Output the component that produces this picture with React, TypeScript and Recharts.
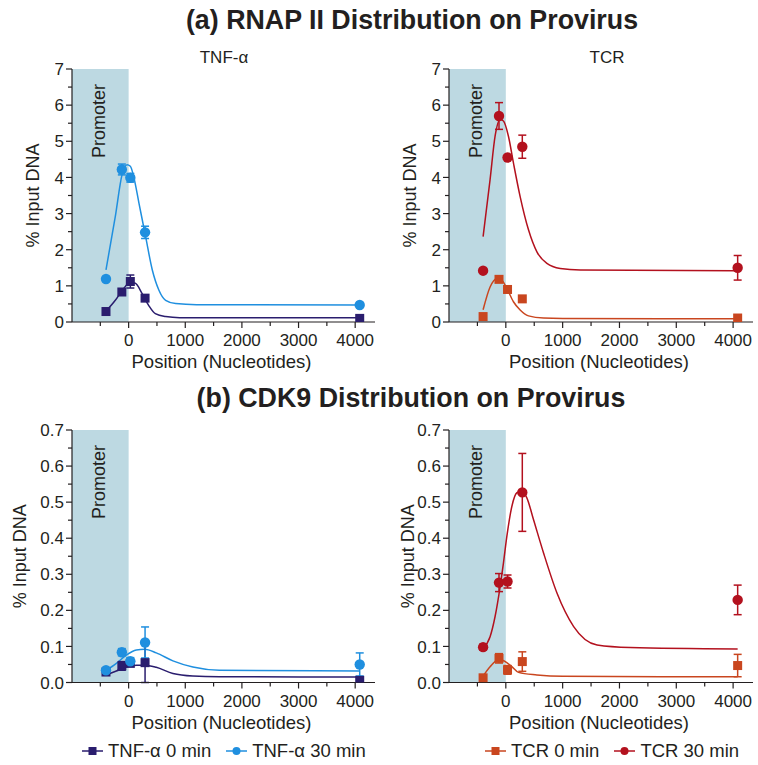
import React from 'react';
import { ComposedChart, XAxis, YAxis, Scatter, Line, ErrorBar, ReferenceArea, Legend, Label } from 'recharts';

// ---------- data ----------
const positions = [-400, -120, 30, 290, 4080];
const xTicks = [-500, 0, 500, 1000, 1500, 2000, 2500, 3000, 3500, 4000];
const xDomain = [-1000, 4350];
const topYTicks = [0, 0.5, 1, 1.5, 2, 2.5, 3, 3.5, 4, 4.5, 5, 5.5, 6, 6.5, 7];
const bottomYTicks = [0, 0.05, 0.1, 0.15, 0.2, 0.25, 0.3, 0.35, 0.4, 0.45, 0.5, 0.55, 0.6, 0.65, 0.7];

// (a) RNAP II
const rnapTnf0 = [0.29, 0.83, 1.12, 0.66, 0.1];
const rnapTnf0Err = [0, 0, 0.18, 0, 0];
const rnapTnf30 = [1.19, 4.22, 3.99, 2.48, 0.47];
const rnapTnf30Err = [0, 0.15, 0.12, 0.17, 0];
const rnapTcr0 = [0.15, 1.18, 0.9, 0.64, 0.11];
const rnapTcr0Err = [0, 0, 0, 0, 0];
const rnapTcr30 = [1.42, 5.7, 4.55, 4.85, 1.5];
const rnapTcr30Err = [0, 0.37, 0, 0.32, 0.34];

// fitted curves
const rnapTnf0FitX = [-400, -235, -88, 30, 118, 236, 353, 471, 653, 900, 4080];
const rnapTnf0FitY = [0.3, 0.6, 0.93, 1.09, 1.07, 0.79, 0.46, 0.23, 0.15, 0.12, 0.12];
const rnapTnf30FitX = [-400, -235, -117, -28, 30, 88, 182, 300, 418, 535, 653, 830, 1200, 4080];
const rnapTnf30FitY = [1.44, 2.92, 4.07, 4.35, 4.31, 4.03, 3.29, 2.36, 1.44, 0.88, 0.6, 0.51, 0.48, 0.47];
const rnapTcr0FitX = [-400, -277, -160, -71, 18, 134, 252, 399, 664, 1000, 4080];
const rnapTcr0FitY = [0.34, 0.97, 1.2, 1.16, 0.93, 0.56, 0.33, 0.17, 0.11, 0.1, 0.09];
const rnapTcr30FitX = [-400, -277, -189, -100, -42, 46, 134, 252, 399, 547, 723, 958, 1310, 4080];
const rnapTcr30FitY = [2.36, 3.94, 5.14, 5.6, 5.56, 5.14, 4.4, 3.47, 2.55, 1.94, 1.62, 1.48, 1.44, 1.42];

// (b) CDK9
const cdkTnf0 = [0.029, 0.046, 0.053, 0.055, 0.006];
const cdkTnf0Err = [0.004, 0.012, 0, 0.055, 0];
const cdkTnf30 = [0.034, 0.084, 0.059, 0.111, 0.05];
const cdkTnf30Err = [0.004, 0.01, 0.01, 0.043, 0.032];
const cdkTcr0 = [0.013, 0.067, 0.035, 0.058, 0.047];
const cdkTcr0Err = [0, 0.013, 0.012, 0.027, 0.031];
const cdkTcr30 = [0.098, 0.277, 0.28, 0.527, 0.229];
const cdkTcr30Err = [0.008, 0.025, 0.018, 0.108, 0.041];

const cdkTnf0FitX = [-400, -217, -40, 136, 282, 488, 782, 1134, 1602, 4080];
const cdkTnf0FitY = [0.021, 0.032, 0.043, 0.048, 0.048, 0.042, 0.025, 0.018, 0.016, 0.015];
const cdkTnf30FitX = [-400, -217, -40, 136, 282, 488, 782, 1134, 1602, 4080];
const cdkTnf30FitY = [0.033, 0.053, 0.076, 0.09, 0.092, 0.082, 0.06, 0.043, 0.034, 0.032];
const cdkTcr0FitX = [-400, -277, -130, -50, 106, 223, 547, 1000, 4080];
const cdkTcr0FitY = [0.018, 0.044, 0.063, 0.061, 0.044, 0.028, 0.021, 0.017, 0.016];
const cdkTcr30FitX = [-400, -277, -189, -100, -42, 18, 106, 194, 282, 370, 488, 664, 900, 1194, 1606, 2187, 4080];
const cdkTcr30FitY = [0.095, 0.127, 0.183, 0.266, 0.331, 0.405, 0.488, 0.526, 0.53, 0.512, 0.451, 0.359, 0.248, 0.155, 0.104, 0.097, 0.093];

// ---------- styles ----------
const C_TNF0 = '#2a1d6e';
const C_TNF30 = '#1f8fdf';
const C_TCR0 = '#c9461f';
const C_TCR30 = '#b3111e';
const SHADE = '#bdd9e2';
const INK = '#231f20';
const FONT = "'Liberation Sans', Arial, Helvetica, sans-serif";

type SeriesDef = {
  name: string;
  color: string;
  shape: 'square' | 'circle';
  values: number[];
  errors: number[];
  fitX: number[];
  fitY: number[];
};

const toPoints = (vals: number[], errs: number[]) =>
  positions.map((x, i) => ({ x, y: vals[i], err: errs[i] }));
const toFit = (xs: number[], ys: number[]) => xs.map((x, i) => ({ x, y: ys[i] }));

const squareShape = (color: string) => (p: any) => (
  <rect x={p.cx - 4.5} y={p.cy - 4.5} width={9} height={9} fill={color} />
);
const circleShape = (color: string) => (p: any) => (
  <circle cx={p.cx} cy={p.cy} r={5.2} fill={color} />
);

type PanelProps = {
  left: number;
  top: number;
  width: number;
  height: number;
  marginTop: number;
  marginRight: number;
  marginBottom: number;
  yAxisWidth: number;
  yMax: number;
  yTicks: number[];
  bottomScale: boolean;
  yLabelDx: number;
  series: SeriesDef[];
  legend?: { left: number; top: number };
};

const renderXTick = (props: any) => {
  const { x, y, payload } = props;
  const v = payload.value;
  const major = v % 1000 === 0;
  return (
    <g>
      <line x1={x} x2={x} y1={y} y2={y + (major ? 6 : 4)} stroke={INK} strokeWidth={1.2} />
      {major && (
        <text x={x} y={y + 24} textAnchor="middle" fontSize={17} fontFamily={FONT} fill={INK}>
          {v}
        </text>
      )}
    </g>
  );
};

const makeYTick = (bottomScale: boolean) => (props: any) => {
  const { x, y, payload } = props;
  const v = payload.value;
  const major = bottomScale ? Math.round(v * 100) % 10 === 0 : Math.round(v * 10) % 10 === 0;
  const label = bottomScale ? v.toFixed(1) : String(Math.round(v));
  return (
    <g>
      <line x1={x - (major ? 6 : 4)} x2={x} y1={y} y2={y} stroke={INK} strokeWidth={1.2} />
      {major && (
        <text x={x - 8} y={y} dy="0.36em" textAnchor="end" fontSize={17} fontFamily={FONT} fill={INK}>
          {label}
        </text>
      )}
    </g>
  );
};

const promoterLabel = (props: any) => {
  const vb = props.viewBox || {};
  const cx = vb.x + 27;
  const cy = vb.y + 15;
  return (
    <text
      x={cx}
      y={cy}
      transform={`rotate(-90 ${cx} ${cy})`}
      textAnchor="end"
      dominantBaseline="central"
      fontSize={18}
      fontFamily={FONT}
      fill={INK}
    >
      Promoter
    </text>
  );
};

const makeLegend = (series: SeriesDef[]) => (props: any) => {
  const payload: any[] = (props && props.payload) || [];
  const found = payload
    .filter((p) => p.type !== 'none' && series.some((s) => s.name === p.value))
    .map((p) => series.find((s) => s.name === p.value) as SeriesDef);
  const entries = found.length ? found : series;
  return (
    <div style={{ display: 'flex', alignItems: 'center', fontFamily: FONT, fontSize: 18.5, color: INK, whiteSpace: 'nowrap' }}>
      {entries.map((s, i) => (
        <div key={s.name} style={{ display: 'flex', alignItems: 'center', marginRight: i === 0 ? 15 : 0 }}>
          <svg width={21} height={12} style={{ display: 'block' }}>
            <line x1={0} x2={21} y1={6} y2={6} stroke={s.color} strokeWidth={1.5} />
            {s.shape === 'square' ? (
              <rect x={6.5} y={2} width={8} height={8} fill={s.color} />
            ) : (
              <circle cx={10.5} cy={6} r={4} fill={s.color} />
            )}
          </svg>
          <span style={{ marginLeft: 5 }}>{s.name}</span>
        </div>
      ))}
    </div>
  );
};

function Panel(p: PanelProps) {
  return (
    <div style={{ position: 'absolute', left: p.left, top: p.top }}>
      <ComposedChart
        width={p.width}
        height={p.height}
        margin={{ top: p.marginTop, right: p.marginRight, bottom: p.marginBottom, left: 0 }}
      >
        <ReferenceArea
          x1={-1000}
          x2={0}
          y1={0}
          y2={p.yMax}
          fill={SHADE}
          fillOpacity={1}
          stroke="none"
          label={promoterLabel}
        />
        <XAxis
          dataKey="x"
          type="number"
          domain={xDomain}
          ticks={xTicks}
          interval={0}
          allowDataOverflow
          tick={renderXTick}
          tickLine={false}
          tickSize={0}
          tickMargin={0}
          height={55}
          stroke={INK}
          strokeWidth={1.2}
        >
          <Label
            content={(lp: any) => {
              const vb = lp.viewBox || {};
              return (
                <text
                  x={vb.x + vb.width / 2 - 2}
                  y={vb.y + 46}
                  textAnchor="middle"
                  fontSize={18.5}
                  fontFamily={FONT}
                  fill={INK}
                >
                  Position (Nucleotides)
                </text>
              );
            }}
          />
        </XAxis>
        <YAxis
          dataKey="y"
          type="number"
          domain={[0, p.yMax]}
          ticks={p.yTicks}
          interval={0}
          allowDataOverflow
          width={p.yAxisWidth}
          tick={makeYTick(p.bottomScale)}
          tickLine={false}
          tickSize={0}
          tickMargin={0}
          stroke={INK}
          strokeWidth={1.2}
        >
          <Label
            content={(lp: any) => {
              const vb = lp.viewBox || {};
              const cx = vb.x + p.yLabelDx;
              const cy = vb.y + vb.height / 2;
              return (
                <text
                  x={cx}
                  y={cy}
                  transform={`rotate(-90 ${cx} ${cy})`}
                  textAnchor="middle"
                  dominantBaseline="central"
                  fontSize={18}
                  fontFamily={FONT}
                  fill={INK}
                >
                  % Input DNA
                </text>
              );
            }}
          />
        </YAxis>
        {p.series.map((s) => (
          <Line
            key={'fit-' + s.name}
            data={toFit(s.fitX, s.fitY)}
            dataKey="y"
            type="monotone"
            stroke={s.color}
            strokeWidth={1.5}
            dot={false}
            activeDot={false}
            legendType="none"
            isAnimationActive={false}
          />
        ))}
        {p.series.map((s) => (
          <Scatter
            key={'pts-' + s.name}
            name={s.name}
            data={toPoints(s.values, s.errors)}
            dataKey="y"
            fill={s.color}
            shape={s.shape === 'square' ? squareShape(s.color) : circleShape(s.color)}
            isAnimationActive={false}
          >
            <ErrorBar dataKey="err" direction="y" width={4} stroke={s.color} strokeWidth={1.5} isAnimationActive={false} />
          </Scatter>
        ))}
        {p.legend && (
          <Legend
            layout="horizontal"
            verticalAlign="middle"
            align="center"
            wrapperStyle={{ left: p.legend.left, top: p.legend.top, width: 'auto' }}
            content={makeLegend(p.series)}
          />
        )}
      </ComposedChart>
    </div>
  );
}

const tnfRnap: SeriesDef[] = [
  { name: 'TNF-α 0 min', color: C_TNF0, shape: 'square', values: rnapTnf0, errors: rnapTnf0Err, fitX: rnapTnf0FitX, fitY: rnapTnf0FitY },
  { name: 'TNF-α 30 min', color: C_TNF30, shape: 'circle', values: rnapTnf30, errors: rnapTnf30Err, fitX: rnapTnf30FitX, fitY: rnapTnf30FitY },
];
const tcrRnap: SeriesDef[] = [
  { name: 'TCR 0 min', color: C_TCR0, shape: 'square', values: rnapTcr0, errors: rnapTcr0Err, fitX: rnapTcr0FitX, fitY: rnapTcr0FitY },
  { name: 'TCR 30 min', color: C_TCR30, shape: 'circle', values: rnapTcr30, errors: rnapTcr30Err, fitX: rnapTcr30FitX, fitY: rnapTcr30FitY },
];
const tnfCdk: SeriesDef[] = [
  { name: 'TNF-α 0 min', color: C_TNF0, shape: 'square', values: cdkTnf0, errors: cdkTnf0Err, fitX: cdkTnf0FitX, fitY: cdkTnf0FitY },
  { name: 'TNF-α 30 min', color: C_TNF30, shape: 'circle', values: cdkTnf30, errors: cdkTnf30Err, fitX: cdkTnf30FitX, fitY: cdkTnf30FitY },
];
const tcrCdk: SeriesDef[] = [
  { name: 'TCR 0 min', color: C_TCR0, shape: 'square', values: cdkTcr0, errors: cdkTcr0Err, fitX: cdkTcr0FitX, fitY: cdkTcr0FitY },
  { name: 'TCR 30 min', color: C_TCR30, shape: 'circle', values: cdkTcr30, errors: cdkTcr30Err, fitX: cdkTcr30FitX, fitY: cdkTcr30FitY },
];

export default function App() {
  return (
    <div style={{ position: 'absolute', left: 0, top: 0, width: 758, height: 765, background: '#fff', overflow: 'hidden' }}>
      <svg width={758} height={765} style={{ position: 'absolute', left: 0, top: 0 }}>
        <text x={412} y={29} textAnchor="middle" fontSize={26.8} fontWeight="bold" fontFamily={FONT} fill={INK}>
          (a) RNAP II Distribution on Provirus
        </text>
        <text x={224} y={63} textAnchor="middle" fontSize={17} fontFamily={FONT} fill={INK}>
          TNF-α
        </text>
        <text x={607} y={63} textAnchor="middle" fontSize={17} fontFamily={FONT} fill={INK}>
          TCR
        </text>
        <text x={411} y={407} textAnchor="middle" fontSize={26.8} fontWeight="bold" fontFamily={FONT} fill={INK}>
          (b) CDK9 Distribution on Provirus
        </text>
      </svg>
      <Panel left={0} top={40} width={379} height={337} marginTop={29} marginRight={4} marginBottom={0}
        yAxisWidth={72} yMax={7} yTicks={topYTicks} bottomScale={false} yLabelDx={33} series={tnfRnap} />
      <Panel left={379} top={40} width={379} height={337} marginTop={29} marginRight={5} marginBottom={0}
        yAxisWidth={70} yMax={7} yTicks={topYTicks} bottomScale={false} yLabelDx={31} series={tcrRnap} />
      <Panel left={0} top={400} width={379} height={365} marginTop={30} marginRight={4} marginBottom={27.5}
        yAxisWidth={72} yMax={0.7} yTicks={bottomYTicks} bottomScale={true} yLabelDx={20} series={tnfCdk}
        legend={{ left: 82, top: 340 }} />
      <Panel left={379} top={400} width={379} height={365} marginTop={30} marginRight={5} marginBottom={27.5}
        yAxisWidth={70} yMax={0.7} yTicks={bottomYTicks} bottomScale={true} yLabelDx={29} series={tcrCdk}
        legend={{ left: 106, top: 340 }} />
    </div>
  );
}
